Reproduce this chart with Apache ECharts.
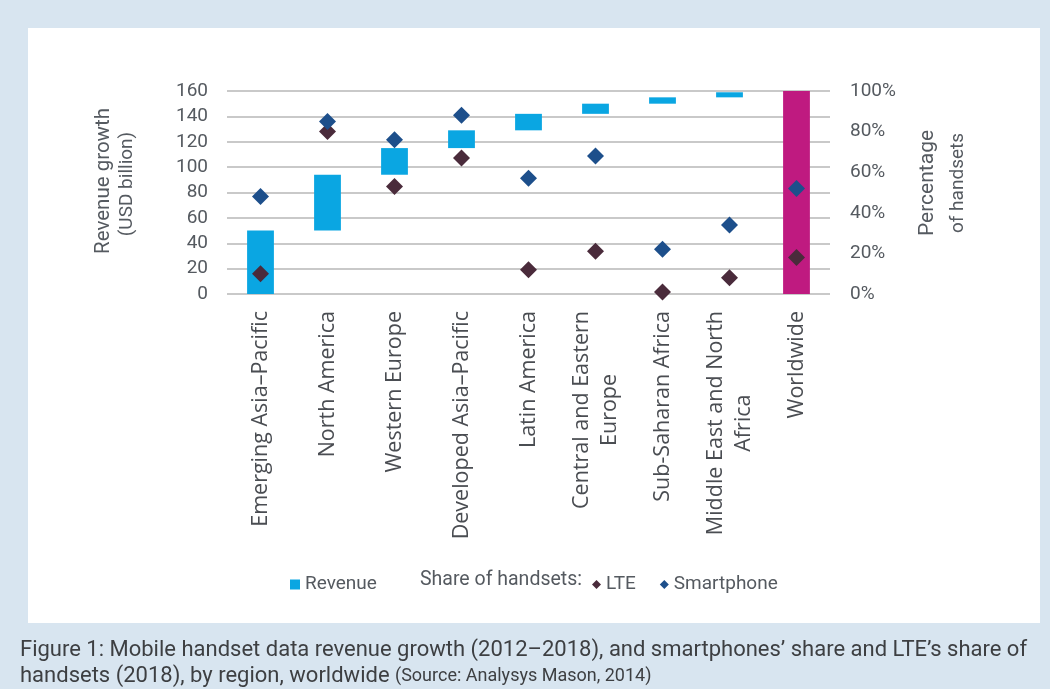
<!DOCTYPE html>
<html>
<head>
<meta charset="utf-8">
<script src="https://cdn.jsdelivr.net/npm/echarts@6/dist/echarts.min.js"></script>
<style>
html,body{margin:0;padding:0;background:#d8e5f0;}
#chart{width:1050px;height:689px;}
</style>
</head>
<body>
<div id="chart"></div>
<script>
// ---- data ----
const categories = ['Emerging Asia–Pacific','North America','Western Europe','Developed Asia–Pacific','Latin America','Central and Eastern\nEurope','Sub-Saharan Africa','Middle East and North\nAfrica','Worldwide'];
const regionalRevenueGrowth = [50, 44, 21, 14, 13, 8, 5, 4]; // USD billion, per region
const worldwideRevenueGrowth = 160;                          // USD billion
const lteShare = [10, 80, 53, 67, 12, 21, 1, 8, 18];         // %
const smartphoneShare = [48, 85, 76, 88, 57, 68, 22, 34, 52]; // %
const leftTicks = {min: 0, max: 160, interval: 20};
const rightTicks = {min: 0, max: 100, interval: 20};

// waterfall bases built from the regional values
const bases = [];
let run = 0;
regionalRevenueGrowth.forEach(v => { bases.push(run); run += v; });
bases.push(0);
const revenueData = regionalRevenueGrowth.slice();
revenueData.push({value: worldwideRevenueGrowth, itemStyle: {color: '#bf1a80'}});

const FONT = 'Roboto';
const CAT_FONT = '"Open Sans"';
const TXT = '#555a60';

function vText(x, y, text, size) {
  return {type: 'text', x: x, y: y, rotation: Math.PI / 2,
    style: {text: text, fontSize: size, fontFamily: FONT, fill: TXT, align: 'center', verticalAlign: 'middle'}};
}

const chart = echarts.init(document.getElementById('chart'));
chart.setOption({
  backgroundColor: '#d8e5f0',
  animation: false,
  grid: {left: 227, right: 220, top: 91, bottom: 395, containLabel: false},
  xAxis: {
    type: 'category',
    data: categories,
    axisLine: {show: false},
    axisTick: {show: false},
    axisLabel: {
      rotate: 90,
      margin: 17,
      interval: 0,
      formatter: v => v.split('\n').map(s => '{c|' + s + '}').join('\n'),
      rich: {c: {align: 'center', fontSize: 21.5, fontFamily: CAT_FONT, color: '#4a4d52', lineHeight: 28}}
    }
  },
  yAxis: [
    {
      type: 'value', min: leftTicks.min, max: leftTicks.max, interval: leftTicks.interval,
      axisLine: {show: false}, axisTick: {show: false},
      axisLabel: {margin: 19, fontSize: 19, fontFamily: FONT, color: TXT},
      splitLine: {lineStyle: {color: '#c9c9c9', width: 2}}
    },
    {
      type: 'value', min: rightTicks.min, max: rightTicks.max, interval: rightTicks.interval,
      axisLine: {show: false}, axisTick: {show: false},
      axisLabel: {margin: 20, fontSize: 19, fontFamily: FONT, color: TXT, formatter: '{value}%'},
      splitLine: {show: false}
    }
  ],
  legend: [
    {
      data: [{name: 'Revenue', icon: 'rect'}],
      left: 285, top: 570, itemWidth: 10, itemHeight: 10, itemGap: 5,
      textStyle: {fontSize: 19, fontFamily: FONT, color: TXT}
    },
    {
      data: [{name: 'LTE', icon: 'diamond'}, {name: 'Smartphone', icon: 'diamond'}],
      left: 587, top: 570, itemWidth: 9, itemHeight: 9, itemGap: 24,
      textStyle: {fontSize: 19, fontFamily: FONT, color: TXT}
    }
  ],
  graphic: [
    {type: 'rect', z: -100, shape: {x: 28, y: 28, width: 1012, height: 595}, style: {fill: '#ffffff'}, silent: true},
    {type: 'text', left: 420, top: 570, style: {text: 'Share of handsets:', fontSize: 19.5, fontFamily: FONT, fill: TXT}},
    vText(104, 181, 'Revenue growth', 20.5),
    vText(127, 184, '(USD billion)', 19),
    vText(928, 183, 'Percentage', 21),
    vText(958, 183, 'of handsets', 19),
    {type: 'text', x: 20, y: 637,
      style: {
        text: 'Figure 1: Mobile handset data revenue growth (2012–2018), and smartphones’ share and LTE’s share of\nhandsets (2018), by region, worldwide {s|(Source: Analysys Mason, 2014)}',
        fontSize: 22, fontFamily: FONT, fill: '#3d3f42', lineHeight: 26,
        rich: {s: {fontSize: 18, fontFamily: FONT, fill: '#3d3f42'}}
      }}
  ],
  series: [
    {
      name: 'base', type: 'bar', stack: 'rev', data: bases, barWidth: '40%', silent: true,
      itemStyle: {color: 'transparent'}
    },
    {
      name: 'Revenue', type: 'bar', stack: 'rev', data: revenueData, barWidth: '40%',
      itemStyle: {color: '#0aa6e2'}
    },
    {
      name: 'LTE', type: 'scatter', yAxisIndex: 1, data: lteShare, symbol: 'diamond', symbolSize: 17,
      itemStyle: {color: '#4a2b3b', opacity: 1}, z: 5
    },
    {
      name: 'Smartphone', type: 'scatter', yAxisIndex: 1, data: smartphoneShare, symbol: 'diamond', symbolSize: 17,
      itemStyle: {color: '#1d4f8b', opacity: 1}, z: 5
    }
  ]
});
</script>
</body>
</html>
